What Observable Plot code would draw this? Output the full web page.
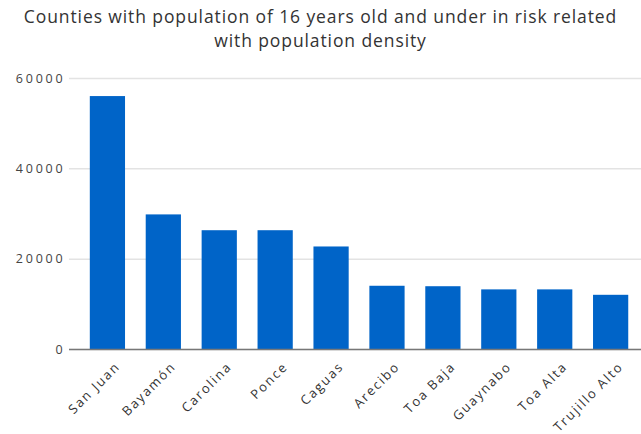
<!DOCTYPE html>
<html>
<head>
<meta charset="utf-8">
<script src="https://cdn.jsdelivr.net/npm/d3@7"></script>
<script src="https://cdn.jsdelivr.net/npm/@observablehq/plot@0.6"></script>
<style>
  html, body { margin: 0; padding: 0; background: #fff; }
  #chart { width: 641px; }
  .title {
    font-family: "Open Sans", sans-serif;
    font-size: 17.5px;
    letter-spacing: 0.9px;
    line-height: 24px;
    color: #333;
    text-align: center;
    padding-top: 4px;
    height: 48px;
    white-space: nowrap;
  }
  svg { display: block; overflow: visible; }
  [aria-label="y-axis tick label"] text { letter-spacing: 2.8px; }
  [aria-label="x-axis tick label"] text { letter-spacing: 1.8px; }
</style>
</head>
<body>
<div id="chart">
  <div class="title">Counties with population of 16 years old and under in risk related<br>with population density</div>
</div>
<script>
// Counties and their population of 16 years old and under
const counties = ["San Juan", "Bayamón", "Carolina", "Ponce", "Caguas", "Arecibo", "Toa Baja", "Guaynabo", "Toa Alta", "Trujillo Alto"];
const population = [56000, 29800, 26300, 26300, 22700, 14000, 13900, 13200, 13200, 12000];
const yTicks = [0, 20000, 40000, 60000];

const data = counties.map((county, i) => ({county, population: population[i]}));

const chart = Plot.plot({
  width: 641,
  height: 382,
  marginTop: 26,
  marginBottom: 85,
  marginLeft: 69,
  marginRight: 0,
  style: {fontFamily: "'Open Sans', sans-serif", background: "#fff"},
  x: {domain: counties, paddingInner: 0.37, paddingOuter: 0.3, align: 0.62, round: false, label: null},
  y: {domain: [0, 60000], label: null},
  marks: [
    Plot.gridY(yTicks, {stroke: "#e3e3e3", strokeOpacity: 1, strokeWidth: 1.5}),
    Plot.axisY(yTicks, {
      tickSize: 0, tickPadding: 4, tickFormat: d3.format("d"),
      fontSize: 12.5, fill: "#444", label: null
    }),
    Plot.barY(data, {x: "county", y: "population", fill: "#0064c8"}),
    Plot.ruleY([0], {stroke: "#777", strokeWidth: 1.5}),
    Plot.axisX({
      tickSize: 0, tickRotate: -45, tickPadding: 10, dx: 10, dy: 5,
      fontSize: 13, fill: "#333", label: null
    })
  ]
});

document.getElementById("chart").appendChild(chart);
</script>
</body>
</html>
